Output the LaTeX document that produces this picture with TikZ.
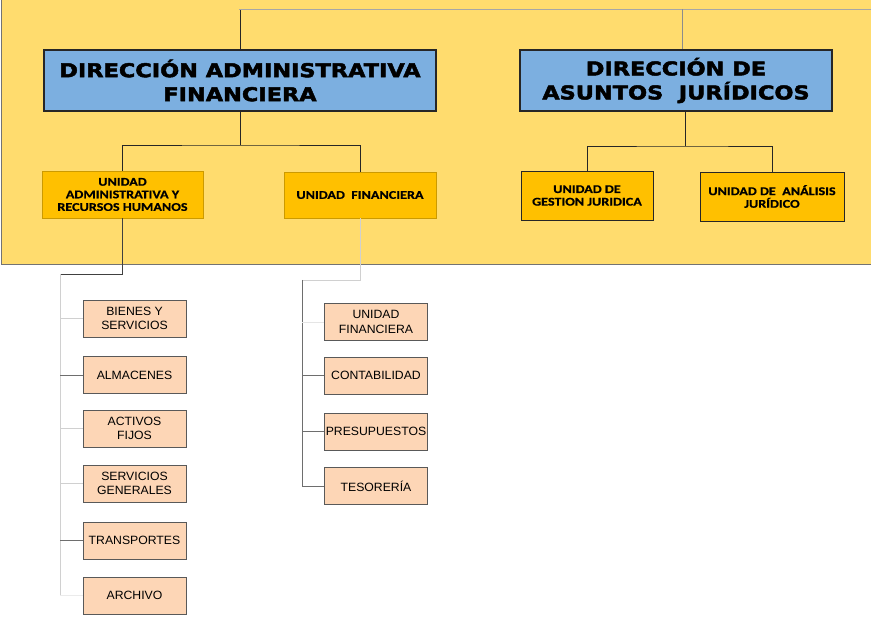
\documentclass[tikz,border=0pt]{standalone}
\usepackage{fontspec}
\setmainfont{Liberation Sans}
\newfontfamily\headfont{DejaVu Sans}[BoldFeatures={FakeBold=2.5,FakeStretch=1.18}]
\newfontfamily\unitfont{Carlito}[BoldFeatures={FakeBold=0.6,FakeStretch=1.2}]
\newfontfamily\subfont{Liberation Sans}[FakeStretch=1.02]
\definecolor{bgyellow}{HTML}{FFDC6E}
\definecolor{dirblue}{HTML}{7CAFE0}
\definecolor{unitorange}{HTML}{FFC000}
\definecolor{peach}{HTML}{FDD6B6}
\definecolor{lightline}{HTML}{D0D0D0}
\definecolor{midline}{HTML}{6E6E6E}
\begin{document}
\begin{tikzpicture}[x=1pt,y=-1pt,
  dirbox/.style={draw=black!85,line width=1.3pt,fill=dirblue,inner sep=0pt,align=center,
    font=\headfont\bfseries\fontsize{19}{24}\selectfont},
  unitbox/.style={draw=black!85,line width=0.9pt,fill=unitorange,inner sep=0pt,align=center,
    font=\unitfont\bfseries\fontsize{11.8}{12.6}\selectfont},
  subbox/.style={draw=black!65,line width=0.8pt,fill=peach,inner sep=0pt,align=center,
    minimum width=103pt,minimum height=37pt,font=\subfont\fontsize{12}{14.3}\selectfont},
  conn/.style={draw=black!85,line width=0.9pt},
  lconn/.style={draw=lightline,line width=0.8pt},
  mconn/.style={draw=midline,line width=0.8pt}]
\useasboundingbox (0,0) rectangle (871,620);
% background panel
\fill[bgyellow,draw=black!55,line width=0.8pt] (1,-5) rectangle (880,264);

% top-level boxes
\node[dirbox,minimum width=392pt,minimum height=61pt] (daf) at (240,80.5)
  {DIRECCIÓN ADMINISTRATIVA\\FINANCIERA};
\node[dirbox,minimum width=312pt,minimum height=61pt] (daj) at (676,80.5)
  {DIRECCIÓN DE\\ASUNTOS\ \ JURÍDICOS};

% unit boxes
\node[unitbox,draw=unitorange!80!black,minimum width=161pt,minimum height=47pt] (uarh) at (122.5,194.5)
  {UNIDAD\\ADMINISTRATIVA Y\\RECURSOS HUMANOS};
\node[unitbox,draw=unitorange!80!black,minimum width=152pt,minimum height=46pt] (uf) at (360,195)
  {UNIDAD\ \ FINANCIERA};
\node[unitbox,minimum width=132pt,minimum height=49pt] (ugj) at (587,195.5)
  {UNIDAD DE\\GESTION JURIDICA};
\node[unitbox,minimum width=144pt,minimum height=49pt] (uaj) at (772,196.5)
  {UNIDAD DE\ \ ANÁLISIS\\JURÍDICO};

% sub boxes, left column
\node[subbox] (bys) at (134.5,318.5) {BIENES Y\\SERVICIOS};
\node[subbox] (alm) at (134.5,375) {ALMACENES};
\node[subbox] (act) at (134.5,428.5) {ACTIVOS\\FIJOS};
\node[subbox] (sg)  at (134.5,483.5) {SERVICIOS\\GENERALES};
\node[subbox] (tra) at (134.5,540.5) {TRANSPORTES};
\node[subbox] (arc) at (134.5,595.5) {ARCHIVO};

% sub boxes, right column
\node[subbox] (ufi) at (376,322) {UNIDAD\\FINANCIERA};
\node[subbox] (con) at (376,375.5) {CONTABILIDAD};
\node[subbox] (pre) at (376,431.5) {PRESUPUESTOS};
\node[subbox] (tes) at (376,486) {TESORERÍA};

% top connectors
\coordinate (ttop) at (239,9);
\coordinate (tright) at (871,9);
\coordinate (jtop) at (682,9);
\draw[conn] (daf.north) -- (daf.north |- ttop);
\draw[draw=black!35,line width=0.8pt] (ttop) -- (tright);
\draw[draw=black!45,line width=0.6pt] (jtop) -- (jtop |- daj.north);

% direction -> units
\coordinate (dafm) at (240,145);
\draw[conn] (daf.south) -- (dafm);
\draw[conn] (uarh.north) |- (dafm) -| (uf.north);
\coordinate (dajm) at (685,146);
\draw[conn] (dajm |- daj.south) -- (dajm);
\draw[conn] (ugj.north) |- (dajm) -| (uaj.north);

% left column connectors
\coordinate (lsp) at (60,274);
\draw[draw=black!75,line width=0.8pt] (uarh.south) |- (lsp);
\draw[lconn] (lsp) -- (lsp |- arc.center);
\draw[lconn] (lsp |- bys.west) -- (bys.west);
\draw[mconn] (lsp |- alm.west) -- (alm.west);
\draw[lconn] (lsp |- act.west) -- (act.west);
\draw[lconn] (lsp |- sg.west) -- (sg.west);
\draw[mconn] (lsp |- tra.west) -- (tra.west);
\draw[draw=black!8,line width=0.8pt] (lsp |- arc.west) -- (arc.west);

% right column connectors
\coordinate (rsp) at (302,280);
\draw[lconn] (uf.south) |- (rsp);
\draw[mconn] (rsp) -- (rsp |- tes.west);
\draw[draw=black!10,line width=0.8pt] (rsp |- ufi.west) -- (ufi.west);
\draw[mconn] (rsp |- con.west) -- (con.west);
\draw[mconn] (rsp |- pre.west) -- (pre.west);
\draw[mconn] (rsp |- tes.west) -- (tes.west);
\end{tikzpicture}
\end{document}
